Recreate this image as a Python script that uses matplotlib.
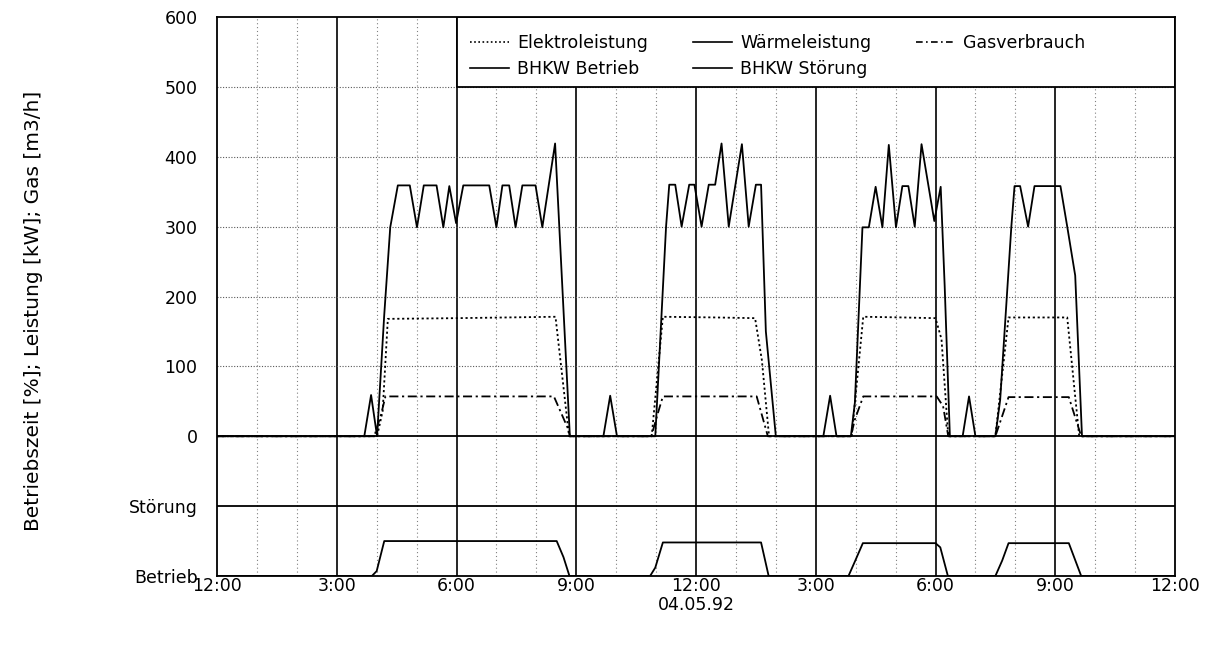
import matplotlib
matplotlib.use("Agg")
import matplotlib.pyplot as plt
import matplotlib.patches as patches
from matplotlib.lines import Line2D

# time axis in hours from 12:00 (0) to 12:00 next day (24)
x_ticks = [0, 3, 6, 9, 12, 15, 18, 21, 24]
x_labels = ["12:00", "3:00", "6:00", "9:00", "12:00\n04.05.92", "3:00", "6:00", "9:00", "12:00"]
y_ticks = [-200, -100, 0, 100, 200, 300, 400, 500, 600]
y_labels = ["Betrieb", "Störung", "0", "100", "200", "300", "400", "500", "600"]

# Waermeleistung [kW] (incl. short start spikes)
waerme_h = [0, 3.69, 3.86, 4.01, 4.19, 4.34, 4.53, 4.83, 5.01, 5.18, 5.5, 5.67, 5.82, 5.99,
            6.17, 6.82, 7.0, 7.15, 7.32, 7.48, 7.65, 7.98, 8.15, 8.47, 8.84,
            9.68, 9.85, 10.02,
            10.98, 11.25, 11.33, 11.48, 11.64, 11.83, 11.96, 12.14, 12.32, 12.48, 12.64,
            12.82, 13.15, 13.32, 13.5, 13.63, 13.75, 14.0,
            15.19, 15.36, 15.52,
            15.88, 15.98, 16.17, 16.33, 16.5, 16.67, 16.83, 17.01, 17.17, 17.32, 17.48,
            17.65, 17.97, 18.13, 18.23, 18.36,
            18.68, 18.84, 19.0,
            19.5, 19.62, 19.9, 19.98, 20.12, 20.32, 20.48, 21.13, 21.3, 21.5, 21.67, 24]
waerme_v = [0, 0, 59, 0, 174, 299, 359, 359, 299, 359, 359, 299, 358, 305,
            359, 359, 299, 359, 359, 299, 359, 359, 299, 419, 0,
            0, 58, 0,
            0, 300, 360, 360, 300, 360, 360, 300, 360, 360, 419,
            300, 418, 300, 360, 360, 150, 0,
            0, 58, 0,
            0, 48, 299, 299, 357, 299, 417, 299, 358, 358, 300,
            418, 308, 357, 215, 0,
            0, 57, 0,
            0, 52, 300, 358, 358, 300, 358, 358, 300, 230, 0, 0]

# Elektroleistung [kW]
elektro_h = [0, 4.01, 4.15, 4.28, 6.0, 8.48, 8.82, 10.89, 11.17, 12.5, 13.48, 13.65, 13.83,
             15.9, 16.19, 17.2, 18.0, 18.15, 18.32, 19.5, 19.83, 21.3, 21.6, 24]
elektro_v = [0, 0, 36, 168, 169, 171, 0, 0, 171, 170, 169, 109, 0,
             0, 171, 170, 169, 139, 0, 0, 170, 170, 0, 0]

# Gasverbrauch [m3/h]
gas_h = [0, 3.94, 4.11, 4.22, 8.44, 8.8, 8.84, 10.88, 11.04, 11.17, 13.52, 13.8,
         15.88, 15.98, 16.19, 18.03, 18.19, 18.32, 19.5, 19.83, 21.34, 21.65, 24]
gas_v = [0, 0, 31, 57, 57, 10, 0, 0, 32, 57, 57, 0,
         0, 24, 57, 57, 43, 0, 0, 56, 56, 0, 0]

# BHKW Betrieb (status track, -200 = aus, -150 = an)
betrieb_h = [0, 3.88, 4.0, 4.19, 8.51, 8.68, 8.83, 10.85, 10.98, 11.17, 13.63, 13.82,
             15.82, 15.99, 16.18, 18.0, 18.12, 18.31, 19.5, 19.67, 19.83, 21.34, 21.65, 24]
betrieb_v = [-200, -200, -193, -150, -150, -173, -200, -200, -188, -152, -152, -200,
             -200, -178, -153, -153, -159, -200, -200, -178, -153, -153, -200, -200]

# BHKW Stoerung (status track, no fault)
stoerung_h = [0, 24]
stoerung_v = [-100, -100]

plt.rcParams['font.family'] = ['DejaVu Sans']
fig = plt.figure(figsize=(12.1, 6.53), dpi=100)
ax = fig.add_axes([217 / 1210, 1 - 576 / 653, 958 / 1210, 559 / 653])

ax.set_xlim(0, 24)
ax.set_ylim(-200, 600)

# grid
for h in range(1, 24):
    if h % 3:
        ax.axvline(h, color='0.5', lw=0.8, ls=(0, (1, 2.5)), zorder=1)
    else:
        ax.axvline(h, color='black', lw=1.2, zorder=1)
for v in [100, 200, 300, 400, 500]:
    ax.axhline(v, color='0.35', lw=0.8, ls=(0, (1, 1.5)), zorder=1)
ax.axhline(0, color='black', lw=1.3, zorder=2)

# legend box in the upper right
ax.add_patch(patches.Rectangle((6, 500), 18, 100, facecolor='white', edgecolor='black',
                               lw=1.3, zorder=3))

lw = 1.3
ax.plot(elektro_h, elektro_v, color='black', lw=lw, ls=(0, (1.2, 1.5)), zorder=4)
ax.plot(waerme_h, waerme_v, color='black', lw=lw, zorder=4)
ax.plot(gas_h, gas_v, color='black', lw=lw, ls=(0, (5, 2, 1.2, 2)), zorder=4)
ax.plot(betrieb_h, betrieb_v, color='black', lw=lw, zorder=4)
ax.plot(stoerung_h, stoerung_v, color='black', lw=lw, zorder=4)

handles = [
    Line2D([], [], color='black', lw=1.2, ls=(0, (1, 1.5))),
    Line2D([], [], color='black', lw=1.2),
    Line2D([], [], color='black', lw=1.2),
    Line2D([], [], color='black', lw=1.2),
    Line2D([], [], color='black', lw=1.2, ls=(0, (4, 2, 1, 2))),
]
labels = ["Elektroleistung", "BHKW Betrieb", "Wärmeleistung", "BHKW Störung", "Gasverbrauch"]
leg = ax.legend(handles, labels, ncol=3, loc='center left', bbox_to_anchor=(6.35, 544),
                bbox_transform=ax.transData, frameon=False, fontsize=12.5,
                handlelength=2.2, handletextpad=0.5, columnspacing=2.6,
                labelspacing=0.5, borderaxespad=0, borderpad=0)
leg.set_zorder(5)

ax.set_xticks(x_ticks)
ax.set_xticklabels(x_labels, fontsize=12.5, linespacing=1.05)
ax.set_yticks(y_ticks)
ax.set_yticklabels(y_labels, fontsize=12.5)
ax.tick_params(length=0)
ax.tick_params(axis='y', pad=14)
ax.tick_params(axis='x', pad=1)

ax.set_ylabel("Betriebszeit [%]; Leistung [kW]; Gas [m3/h]", fontsize=14.5)
ax.yaxis.set_label_coords(-0.182, 0.475)

for s in ax.spines.values():
    s.set_linewidth(1.3)
    s.set_zorder(6)

fig.savefig("out.png", dpi=100)
